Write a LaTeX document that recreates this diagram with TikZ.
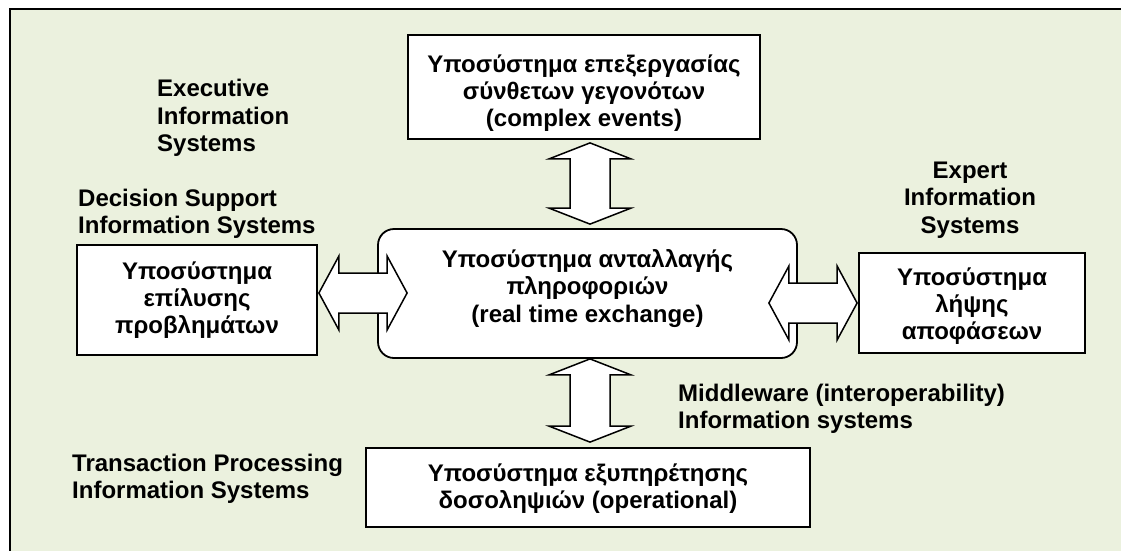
\documentclass[tikz,border=0pt]{standalone}
\usepackage{fontspec}
\setmainfont{Liberation Sans}
\usetikzlibrary{calc}
\definecolor{panelgreen}{HTML}{EBF1DE}

% vertical two-headed block arrow between two tips (x taken from the first)
\newcommand\udblockarrow[2]{%
  \draw[blockarrow] let \p1=(#1), \p2=(#2) in
    (\x1,\y1) -- (\x1+41pt,\y1-16pt) -- (\x1+20pt,\y1-16pt) -- (\x1+20pt,\y2+16pt)
    -- (\x1+41pt,\y2+16pt) -- (\x1,\y2) -- (\x1-41pt,\y2+16pt) -- (\x1-20pt,\y2+16pt)
    -- (\x1-20pt,\y1-16pt) -- (\x1-41pt,\y1-16pt) -- cycle;}
% horizontal two-headed block arrow between two tips (y taken from the first)
\newcommand\lrblockarrow[2]{%
  \draw[blockarrow] let \p1=(#1), \p2=(#2) in
    (\x1,\y1) -- (\x1+20pt,\y1+37pt) -- (\x1+20pt,\y1+20pt) -- (\x2-20pt,\y1+20pt)
    -- (\x2-20pt,\y1+37pt) -- (\x2,\y1) -- (\x2-20pt,\y1-37pt) -- (\x2-20pt,\y1-20pt)
    -- (\x1+20pt,\y1-20pt) -- (\x1+20pt,\y1-37pt) -- cycle;}

\begin{document}
\begin{tikzpicture}[x=1pt,y=-1pt,
  txt/.style={font=\bfseries\fontsize{24}{27.3}\selectfont},
  lbl/.style={txt, inner sep=0pt, align=left},
  boxtext/.style={txt, inner sep=0pt, align=center},
  sysbox/.style={draw=black, line width=1.8pt, fill=white, inner sep=0pt}]

\tikzset{blockarrow/.style={draw=black, line width=1.5pt, fill=white, line join=miter}}

\useasboundingbox (0,0) rectangle (1121,550);
\begin{scope}
  \clip (0,0) rectangle (1121,550);
  \draw[fill=panelgreen, line width=1.8pt] (10,9) rectangle (1140,570);
\end{scope}

% subsystems
\node[sysbox, minimum width=352pt, minimum height=104pt] (cep) at (584,87) {};
\node[boxtext] (cep-t) at ([yshift=-6pt]cep.center)
  {Υποσύστημα επεξεργασίας\\σύνθετων γεγονότων\\(complex events)};
\node[sysbox, rounded corners=16pt, minimum width=419pt, minimum height=129pt] (core) at (587.5,293.5) {};
\node[boxtext] (core-t) at ([yshift=5pt]core.center)
  {Υποσύστημα ανταλλαγής\\πληροφοριών\\(real time exchange)};
\node[sysbox, minimum width=240pt, minimum height=110pt] (solve) at (197,300) {};
\node[boxtext] (solve-t) at (solve.center)
  {Υποσύστημα\\επίλυσης\\προβλημάτων};
\node[sysbox, minimum width=226pt, minimum height=100pt] (decide) at (972,303) {};
\node[boxtext] (decide-t) at ([yshift=-3pt]decide.center)
  {Υποσύστημα\\λήψης\\αποφάσεων};
\node[sysbox, minimum width=444pt, minimum height=79pt] (ops) at (588,487.5) {};
\node[boxtext] (ops-t) at ([yshift=-1pt]ops.center)
  {Υποσύστημα εξυπηρέτησης\\δοσοληψιών (operational)};

% information system categories
\node[lbl, anchor=west] (eis) at (157,118) {Executive\\Information\\Systems};
\node[lbl, anchor=west] (dss) at (78,213.5) {Decision Support\\Information Systems};
\node[lbl, align=center] (es) at (970,200) {Expert\\Information\\Systems};
\node[lbl, anchor=west] (mw) at (678,408.5) {Middleware (interoperability)\\Information systems};
\node[lbl, anchor=west] (tps) at (72,478.5) {Transaction Processing\\Information Systems};

% links between subsystems
\udblockarrow{[xshift=6pt,yshift=-3pt]cep.south}{[yshift=4pt]core.north}
\udblockarrow{[xshift=2.5pt]core.south}{[yshift=5pt]ops.north}
\lrblockarrow{[xshift=1pt,yshift=7pt]solve.east}{[xshift=30pt]core.west}
\lrblockarrow{$(core.east |- decide.west)+(-29,0)$}{[xshift=-1pt]decide.west}
\end{tikzpicture}
\end{document}
